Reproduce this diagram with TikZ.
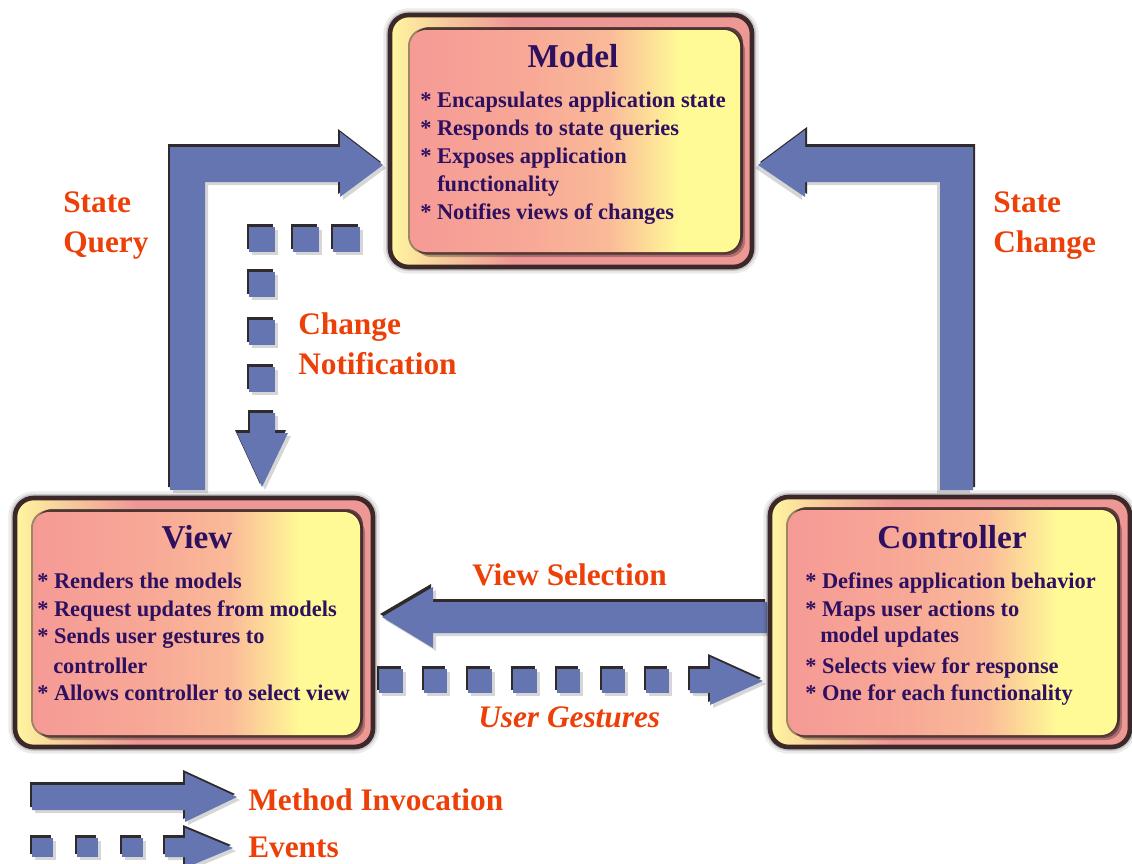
\documentclass[tikz,border=0pt]{standalone}
\usepackage{fontspec}
\setmainfont{Liberation Serif}
\usetikzlibrary{calc}
\definecolor{arrowblue}{RGB}{101,117,178}
\definecolor{shadowc}{RGB}{48,42,42}
\definecolor{framec}{RGB}{60,40,40}
\definecolor{titlec}{RGB}{46,16,96}
\definecolor{labelc}{RGB}{236,64,8}
\definecolor{pinkc}{RGB}{246,154,150}
\definecolor{peachc}{RGB}{250,186,152}
\definecolor{yellowc}{RGB}{255,250,150}
\definecolor{oyellow}{RGB}{255,246,160}
\definecolor{opink}{RGB}{238,152,150}
\pgfdeclarehorizontalshading{innershade}{100bp}{color(0bp)=(pinkc); color(25bp)=(pinkc); color(43bp)=(pinkc!85!yellowc); color(55bp)=(peachc); color(66bp)=(yellowc); color(100bp)=(yellowc)}
\pgfdeclarehorizontalshading{outershade}{100bp}{color(0bp)=(oyellow); color(25bp)=(oyellow); color(33bp)=(oyellow!50!opink); color(42bp)=(opink); color(100bp)=(opink)}
\tikzset{
  softsh/.style={fill=black, opacity=0.16},
  darksh/.style={fill=shadowc},
  fatfill/.style={fill=arrowblue},
  bul/.style={anchor=base west, inner sep=0pt, text=titlec, font=\fontsize{16.8}{20}\selectfont\bfseries},
  ttl/.style={anchor=base, inner sep=0pt, text=titlec, font=\fontsize{25}{30}\selectfont\bfseries},
  lbl/.style={anchor=base west, inner sep=0pt, text=labelc, font=\fontsize{23.5}{28}\selectfont\bfseries},
}
\newcommand{\myfat}[1]{%
  \fill[softsh, shift={(3,3)}] #1;
  \fill[darksh, shift={(-2,-3)}] #1;
  \fill[fatfill] #1;
}
\newcommand{\myfatr}[1]{%
  \fill[softsh, shift={(-3,3)}] #1;
  \fill[darksh, shift={(2,-3)}] #1;
  \fill[fatfill] #1;
}
\newcommand{\mybox}[8]{%
  \draw[black, opacity=.08, line width=10pt, rounded corners=14pt] (#1,#2) rectangle (#3,#4);
  \draw[black, opacity=.16, line width=6pt, rounded corners=14pt] (#1,#2) rectangle (#3,#4);
  \shade[shading=outershade, draw=framec, line width=3.5pt, rounded corners=14pt] (#1,#2) rectangle (#3,#4);
  \fill[framec, opacity=.35, rounded corners=12pt, shift={(5,5)}] (#5,#6) rectangle (#7,#8);
  \fill[framec, opacity=.55, rounded corners=12pt, shift={(3,3)}] (#5,#6) rectangle (#7,#8);
  \draw[framec, opacity=.5, line width=3pt, rounded corners=12pt] (#5,#6) rectangle (#7,#8);
  \fill[framec, opacity=.8, rounded corners=12pt, shift={(3,-3)}] (#5,#6) rectangle (#7,#8);
  \shade[shading=innershade, rounded corners=12pt] (#5,#6) rectangle (#7,#8);
}
\begin{document}
\begin{tikzpicture}[x=0.75pt,y=-0.75pt]
\useasboundingbox (0,0) rectangle (1132,864);

% ---- State Query arrow (View -> Model)
\myfat{(170,490) -- (170,147) -- (340,147) -- (340,132) -- (383,165) -- (340,197) -- (340,182) -- (205,182) -- (205,490) -- cycle}
% ---- State Change arrow (Controller -> Model)
\myfatr{(973,490) -- (973,147) -- (805,147) -- (805,130) -- (758,165) -- (805,197) -- (805,182) -- (940,182) -- (940,490) -- cycle}
% ---- View Selection arrow (Controller -> View)
\myfat{(767,602) -- (433,602) -- (433,587) -- (382,617) -- (433,648) -- (433,633) -- (767,633) -- cycle}

% ---- Change Notification (events, Model -> View)
\myfat{(333,227) rectangle (360,252)}
\myfat{(293,227) rectangle (319,252)}
\myfat{(249,227) rectangle (275,252)}
\myfat{(249,272) rectangle (275,297)}
\myfat{(249,320) rectangle (275,345)}
\myfat{(249,367) rectangle (275,392)}
\myfat{(250,413) -- (275,413) -- (275,433) -- (288,433) -- (262,487) -- (237,433) -- (250,433) -- cycle}

% ---- User Gestures (events, View -> Controller)
\myfat{(379,669) rectangle (403,693)}
\myfat{(424,669) rectangle (447,693)}
\myfat{(468,669) rectangle (492,693)}
\myfat{(513,669) rectangle (537,693)}
\myfat{(557,669) rectangle (580,693)}
\myfat{(602,669) rectangle (625,693)}
\myfat{(646,669) rectangle (669,693)}
\myfat{(690,669) -- (710,669) -- (710,657) -- (763,681) -- (710,705) -- (710,693) -- (690,693) -- cycle}

% ---- Legend
\myfat{(32,785) -- (185,785) -- (185,773) -- (237,797) -- (185,822) -- (185,810) -- (32,810) -- cycle}
\myfat{(32,838) rectangle (53,857)}
\myfat{(77,838) rectangle (98,857)}
\myfat{(122,838) rectangle (143,857)}
\myfat{(165,838) -- (185,838) -- (185,828) -- (233,848) -- (185,868) -- (185,857) -- (165,857) -- cycle}

% ---- Boxes
\mybox{390}{15}{752}{267}{410}{30}{740}{252}
\mybox{15}{498}{373}{747}{33}{512}{360}{735}
\mybox{770}{497}{1130}{747}{788}{510}{1117}{735}

% ---- Model text
\node[ttl] (model) at (573,67) {Model};
\node[bul] (m1) at (420,107) {* Encapsulates application state};
\node[bul] (m2) at (420,135) {* Responds to state queries};
\node[bul] (m3) at (420,163) {* Exposes application};
\node[bul] (m4) at (437,191) {functionality};
\node[bul] (m5) at (420,219) {* Notifies views of changes};

% ---- View text
\node[ttl] (view) at (197,548) {View};
\node[bul] (v1) at (37,588) {* Renders the models};
\node[bul] (v2) at (37,616) {* Request updates from models};
\node[bul] (v3) at (37,643) {* Sends user gestures to};
\node[bul] (v4) at (53,673) {controller};
\node[bul] (v5) at (37,700) {* Allows controller to select view};

% ---- Controller text
\node[ttl] (controller) at (952,548) {Controller};
\node[bul] (c1) at (805,588) {* Defines application behavior};
\node[bul] (c2) at (805,616) {* Maps user actions to};
\node[bul] (c3) at (820,642) {model updates};
\node[bul] (c4) at (805,673) {* Selects view for response};
\node[bul] (c5) at (805,700) {* One for each functionality};

% ---- Labels
\node[lbl] (sq1) at (63,212) {State};
\node[lbl] (sq2) at (63,252) {Query};
\node[lbl] (sc1) at (993,212) {State};
\node[lbl] (sc2) at (993,252) {Change};
\node[lbl] (cn1) at (298,334) {Change};
\node[lbl] (cn2) at (298,374) {Notification};
\node[lbl] (vs) at (472,585) {View Selection};
\node[lbl, font=\fontsize{23.5}{28}\selectfont\bfseries\itshape] (ug) at (478,727) {User Gestures};
\node[lbl] (mi) at (248,810) {Method Invocation};
\node[lbl] (ev) at (248,857) {Events};
\end{tikzpicture}
\end{document}
